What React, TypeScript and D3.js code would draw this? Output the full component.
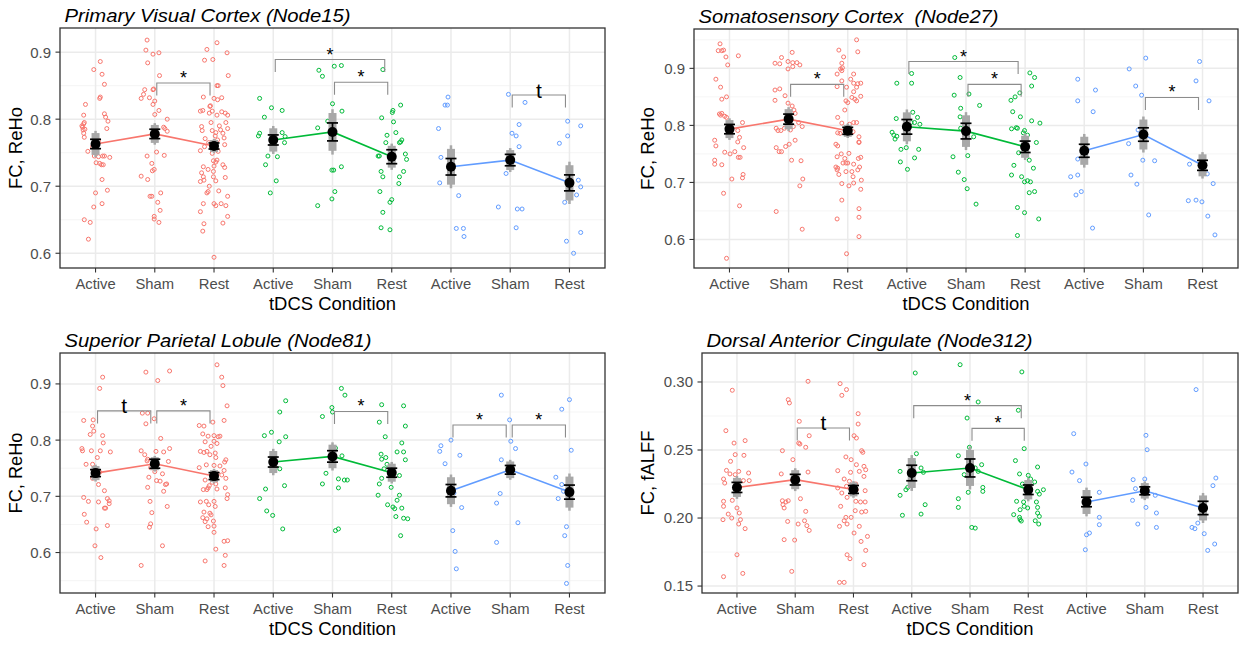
import React from "react";
import * as d3 from "d3";

// x categories and series colours (ggplot defaults)
const conditions = ["Active", "Sham", "Rest", "Active", "Sham", "Rest", "Active", "Sham", "Rest"];
const seriesColors = ["#F8766D", "#00BA38", "#619CFF"];

// ---------- Primary Visual Cortex (Node15) ----------
const node15Mean = [0.763, 0.778, 0.760, 0.769, 0.781, 0.744, 0.729, 0.739, 0.705];
const node15Se = [0.007, 0.007, 0.0045, 0.0075, 0.0134, 0.0104, 0.0123, 0.0085, 0.0119];
const node15Ci = [0.0163, 0.0134, 0.0089, 0.0174, 0.0282, 0.0163, 0.0267, 0.0149, 0.0263];
// [jitter, value]
const node15Points: number[][][] = [
  [[-0.03,.874],[.08,.886],[.11,.867],[.15,.852],[-.17,.822],[.08,.833],[.07,.831],[-.2,.806],[.15,.808],[.17,.803],[.21,.797],[-.23,.790],[-.19,.795],[-.2,.793],[-.18,.785],[-.2,.779],[-.19,.773],[.19,.786],[.05,.768],[-.13,.752],[.05,.744],[-.02,.745],[.12,.745],[.01,.735],[.07,.734],[.1,.732],[.13,.732],[.24,.743],[.15,.745],[-.05,.759],[.11,.710],[.2,.694],[0,.690],[-.03,.669],[.11,.674],[-.19,.650],[-.09,.646],[-.12,.621],[-.22,.788],[-.21,.784]],
  [[-.13,.918],[-.15,.903],[.07,.899],[-.03,.897],[-.12,.884],[.08,.865],[-.02,.845],[-.17,.844],[-.03,.844],[-.19,.837],[-.23,.831],[-.09,.832],[0,.827],[-.03,.822],[.07,.813],[0,.807],[.21,.800],[.15,.788],[.21,.782],[.17,.786],[.03,.751],[.16,.746],[-.13,.745],[-.05,.734],[-.01,.725],[-.04,.723],[-.23,.715],[-.12,.710],[-.08,.685],[-.05,.685],[.1,.690],[.05,.676],[.09,.664],[-.01,.655],[-.01,.651],[.07,.646]],
  [[.05,.914],[-.12,.904],[.22,.899],[-.02,.889],[-.16,.888],[.24,.865],[.05,.850],[.07,.850],[-.18,.833],[0,.831],[.13,.832],[.06,.829],[-.19,.813],[-.23,.812],[-.07,.819],[-.06,.820],[-.03,.812],[.13,.811],[.19,.809],[-.08,.809],[.05,.806],[.23,.806],[-.05,.795],[.2,.795],[-.21,.789],[.09,.790],[.23,.786],[-.2,.783],[-.03,.783],[.11,.784],[.03,.780],[.15,.779],[.17,.772],[.02,.775],[-.15,.771],[.06,.769],[-.09,.765],[-.16,.759],[.03,.759],[.07,.752],[-.03,.749],[-.23,.753],[.18,.762],[.05,.739],[-.01,.738],[.03,.736],[-.18,.729],[0,.730],[.15,.732],[.18,.728],[-.1,.725],[-.21,.720],[-.01,.722],[-.18,.714],[-.01,.714],[.19,.713],[-.23,.707],[-.17,.709],[.03,.708],[-.08,.700],[-.1,.692],[-.12,.690],[.08,.693],[.23,.685],[-.18,.674],[0,.674],[.03,.671],[.12,.674],[.2,.671],[-.23,.662],[.23,.655],[.15,.645],[-.17,.644],[-.19,.633],[0,.594]],
  [[-.23,.831],[-.03,.817],[.15,.813],[-.15,.803],[-.23,.779],[-.25,.775],[.15,.780],[.2,.774],[.19,.765],[.01,.770],[-.09,.745],[.07,.744],[-.13,.732],[.05,.708],[-.05,.690]],
  [[-.23,.873],[-.17,.864],[.03,.879],[.15,.880],[0,.823],[.16,.812],[-.25,.787],[-.08,.797],[0,.766],[-.01,.724],[.02,.724],[.15,.729],[.04,.692],[-.01,.681],[-.25,.671]],
  [[-.15,.874],[.15,.821],[.02,.813],[.01,.810],[-.17,.802],[.03,.796],[.13,.765],[.17,.769],[.15,.766],[-.08,.776],[-.1,.765],[.07,.780],[-.21,.745],[-.23,.745],[.23,.748],[.25,.740],[-.18,.722],[-.15,.714],[.13,.714],[.2,.722],[.12,.704],[-.2,.692],[-.03,.676],[0,.680],[-.15,.661],[-.18,.638],[-.03,.635]],
  [[-.05,.833],[-.1,.821],[-.06,.821],[-.21,.786],[-.17,.743],[-.19,.705],[.13,.686],[.09,.637],[.21,.637],[.22,.625]],
  [[-.03,.837],[.25,.825],[.15,.792],[.03,.779],[.1,.775],[.15,.759],[-.07,.719],[-.2,.669],[.12,.666],[.2,.666],[.1,.638]],
  [[-.03,.797],[.19,.790],[-.03,.775],[-.17,.764],[.15,.709],[.19,.699],[.12,.687],[-.08,.676],[.19,.631],[-.05,.618],[.07,.600]],
];
// [from, to, y, label]
const node15Brackets: [number, number, number, string][] = [
  [1, 2, 0.854, "*"], [3, 5, 0.889, "*"], [4, 5, 0.855, "*"], [7, 8, 0.836, "t"],
];

// ---------- Somatosensory Cortex (Node27) ----------
const node27Mean = [0.7935, 0.811, 0.7905, 0.7975, 0.790, 0.7625, 0.7555, 0.784, 0.730];
const node27Se = [0.0082, 0.0088, 0.0061, 0.0128, 0.0137, 0.010, 0.0114, 0.0118, 0.0088];
const node27Ci = [0.0158, 0.0175, 0.0105, 0.0254, 0.0277, 0.0193, 0.0246, 0.0263, 0.0193];
const node27Points: number[][][] = [
  [[-.16,.943],[-.1,.932],[-.19,.931],[-.13,.931],[-.06,.920],[.15,.922],[-.03,.906],[-.23,.881],[-.15,.867],[-.13,.846],[-.05,.850],[-.15,.818],[-.17,.820],[-.13,.821],[-.08,.816],[-.05,.814],[.22,.805],[-.25,.774],[.14,.791],[.17,.779],[-.23,.764],[.14,.771],[.24,.761],[.09,.754],[.01,.750],[-.08,.753],[.15,.744],[.18,.744],[-.25,.739],[-.25,.732],[-.13,.731],[.23,.714],[.22,.708],[.04,.706],[-.1,.681],[.17,.659],[-.05,.567]],
  [[.06,.928],[-.12,.919],[-.01,.912],[.07,.910],[.14,.910],[.19,.906],[-.15,.908],[-.23,.909],[.07,.903],[-.01,.899],[-.23,.862],[-.15,.864],[-.06,.852],[-.23,.844],[-.01,.839],[.06,.834],[.09,.827],[.11,.821],[.01,.821],[-.21,.795],[-.18,.791],[-.13,.791],[-.07,.795],[.08,.798],[.17,.805],[.23,.798],[.03,.792],[.01,.767],[.11,.774],[-.21,.761],[-.16,.754],[-.12,.754],[-.05,.763],[.05,.739],[.21,.738],[.24,.706],[.19,.694],[-.21,.649],[.23,.618]],
  [[.15,.950],[-.15,.932],[.17,.929],[-.07,.920],[-.1,.909],[-.09,.901],[-.12,.899],[-.1,.896],[-.18,.890],[.1,.890],[.05,.881],[-.1,.878],[.22,.874],[.1,.874],[.17,.873],[-.18,.868],[-.02,.867],[.15,.867],[.1,.859],[.07,.849],[.12,.846],[.22,.851],[-.03,.843],[0,.840],[.15,.843],[-.05,.827],[-.17,.814],[-.1,.804],[.1,.805],[.03,.802],[.15,.805],[-.17,.787],[-.13,.786],[.09,.789],[.19,.780],[.19,.771],[-.2,.767],[-.17,.764],[.19,.770],[-.11,.750],[.02,.751],[-.18,.745],[-.05,.742],[.22,.744],[.18,.742],[0,.734],[-.03,.734],[-.08,.734],[.1,.732],[-.2,.727],[-.17,.725],[-.18,.722],[.2,.727],[-.03,.719],[.07,.719],[.09,.710],[.17,.722],[-.15,.714],[-.1,.698],[.02,.694],[.1,.699],[.23,.704],[.22,.688],[-.1,.669],[.19,.654],[.19,.639],[-.18,.636],[.19,.605],[-.02,.575]],
  [[-.17,.874],[.08,.891],[.08,.874],[-.18,.812],[.1,.823],[.18,.814],[.13,.805],[.22,.802],[.07,.805],[-.25,.788],[-.22,.783],[-.17,.781],[-.2,.776],[-.1,.758],[.2,.758],[-.01,.761],[.13,.743],[-.11,.736],[.01,.723]],
  [[-.19,.919],[-.1,.884],[-.2,.853],[.05,.855],[.23,.835],[-.09,.830],[-.1,.815],[.13,.780],[.03,.747],[-.22,.745],[-.13,.718],[-.03,.705],[.02,.689],[.17,.662],[-.09,.795]],
  [[.08,.892],[.16,.884],[-.24,.844],[-.17,.850],[-.09,.857],[.11,.869],[-.21,.824],[-.08,.815],[.11,.808],[.25,.804],[-.15,.796],[-.13,.795],[-.23,.794],[-.01,.791],[-.03,.787],[.04,.783],[.19,.770],[-.11,.752],[.07,.739],[-.19,.730],[.14,.725],[-.23,.713],[-.06,.710],[.04,.703],[-.01,.701],[.09,.701],[.07,.682],[.16,.684],[-.13,.656],[-.01,.647],[.23,.636],[-.13,.607]],
  [[-.11,.881],[-.11,.843],[.19,.862],[.15,.824],[-.11,.741],[-.23,.710],[-.11,.713],[-.05,.684],[-.14,.678],[.14,.620]],
  [[.04,.918],[-.24,.899],[-.13,.869],[-.03,.853],[-.25,.768],[-.21,.713],[-.11,.697],[-.01,.739],[.19,.738],[.09,.643],[-.09,.792]],
  [[-.05,.912],[-.11,.878],[.11,.843],[-.22,.732],[.08,.715],[.18,.698],[-.24,.668],[-.11,.669],[-.01,.666],[.09,.641],[.21,.608]],
];
const node27Brackets: [number, number, number, string][] = [
  [1, 2, 0.872, "*"], [3, 5, 0.912, "*"], [4, 5, 0.872, "*"], [7, 8, 0.849, "*"],
];

// ---------- Superior Parietal Lobule (Node81) ----------
const node81Mean = [0.7413, 0.758, 0.736, 0.761, 0.771, 0.742, 0.710, 0.7472, 0.7075];
const node81Se = [0.0062, 0.008, 0.0062, 0.0089, 0.0102, 0.008, 0.011, 0.0077, 0.0125];
const node81Ci = [0.0125, 0.0116, 0.0107, 0.0196, 0.0209, 0.016, 0.024, 0.0148, 0.0276];
const node81Points: number[][][] = [
  [[.12,.912],[.07,.892],[-.04,.836],[-.2,.835],[-.05,.825],[-.03,.816],[-.09,.810],[.12,.808],[.13,.795],[-.23,.785],[-.22,.781],[-.07,.781],[.08,.781],[.25,.779],[.03,.769],[-.16,.757],[-.05,.757],[0,.748],[.07,.743],[-.05,.732],[.05,.721],[.15,.710],[-.2,.698],[-.12,.691],[.2,.696],[.23,.692],[.05,.690],[.15,.679],[.17,.679],[.23,.687],[-.19,.668],[-.15,.654],[.2,.648],[.01,.642],[-.01,.612],[.09,.591]],
  [[-.15,.921],[.05,.906],[.25,.923],[-.21,.848],[-.12,.848],[-.01,.838],[-.15,.829],[.1,.803],[-.23,.781],[-.17,.774],[-.12,.766],[-.13,.763],[.02,.780],[.25,.785],[.15,.779],[.23,.762],[-.07,.751],[0,.744],[-.1,.734],[.03,.728],[.09,.727],[.18,.721],[.2,.722],[.13,.740],[-.12,.716],[.15,.709],[-.08,.691],[.21,.682],[-.05,.671],[-.07,.651],[-.09,.645],[.13,.612],[-.23,.577]],
  [[.05,.934],[.13,.912],[.15,.897],[.22,.861],[.17,.835],[-.25,.826],[-.17,.825],[-.02,.832],[-.19,.811],[0,.808],[.1,.807],[-.1,.807],[.07,.806],[0,.798],[-.15,.797],[.05,.794],[-.05,.789],[-.23,.780],[-.12,.780],[-.17,.778],[.02,.777],[-.07,.774],[.03,.769],[.2,.765],[.18,.761],[-.13,.756],[0,.755],[.1,.754],[-.25,.751],[.17,.746],[.05,.741],[.13,.738],[.2,.732],[-.15,.729],[-.03,.725],[.03,.722],[-.1,.715],[-.12,.712],[-.18,.712],[.05,.713],[-.08,.719],[.19,.715],[.23,.703],[.22,.696],[-.23,.690],[-.13,.691],[0,.691],[.02,.682],[-.09,.685],[-.17,.672],[-.19,.662],[-.07,.670],[-.05,.667],[-.12,.660],[-.15,.655],[-.01,.656],[0,.647],[-.1,.646],[0,.636],[.17,.620],[.23,.621],[.03,.606],[.19,.595],[-.15,.585],[.17,.577]],
  [[.21,.870],[.11,.850],[-.03,.814],[-.15,.808],[.1,.797],[.21,.806],[.01,.768],[.11,.749],[.19,.719],[-.13,.713],[-.23,.696],[-.11,.674],[-.01,.666],[.16,.642]],
  [[.15,.892],[.21,.880],[-.01,.858],[0,.850],[-.17,.842],[.05,.786],[.16,.772],[-.11,.741],[.1,.731],[-.17,.722],[.2,.729],[.25,.729],[.1,.715],[.1,.642],[.05,.639],[0,.768]],
  [[-.17,.863],[.2,.861],[-.21,.832],[-.11,.806],[.23,.825],[.17,.795],[.09,.779],[.2,.779],[-.18,.775],[-.1,.769],[-.17,.766],[-.08,.757],[.23,.765],[.13,.737],[-.13,.749],[-.17,.732],[-.21,.722],[-.01,.716],[.13,.702],[-.07,.685],[.05,.678],[.17,.679],[.2,.661],[-.23,.702],[.07,.664],[.15,.630],[.27,.660],[.09,.693],[.02,.681]],
  [[-.17,.790],[-.19,.780],[0,.800],[-.1,.758],[.15,.773],[.05,.706],[.18,.680],[.03,.639],[.07,.602],[.09,.571]],
  [[-.15,.880],[-.01,.836],[.01,.798],[.09,.785],[-.15,.765],[-.17,.705],[-.23,.688],[.13,.653],[-.23,.618]],
  [[0,.872],[-.13,.855],[.03,.782],[-.23,.734],[-.13,.721],[-.19,.696],[-.05,.646],[-.08,.630],[-.03,.577],[-.05,.545],[-.1,.709]],
];
const node81Brackets: [number, number, number, string][] = [
  [0, 1, 0.852, "t"], [1, 2, 0.852, "*"], [4, 5, 0.851, "*"], [6, 7, 0.827, "*"], [7, 8, 0.827, "*"],
];

// ---------- Dorsal Anterior Cingulate (Node312) ----------
const node312Mean = [0.2225, 0.2282, 0.221, 0.2331, 0.2368, 0.2208, 0.2118, 0.220, 0.2074];
const node312Se = [0.0037, 0.0039, 0.0029, 0.0057, 0.0066, 0.0035, 0.0035, 0.0029, 0.0049];
const node312Ci = [0.007, 0.007, 0.0051, 0.011, 0.0132, 0.0071, 0.0088, 0.0057, 0.0092];
const node312Points: number[][][] = [
  [[-.08,.2939],[-.19,.2642],[-.05,.2551],[.14,.2569],[-.03,.2466],[.12,.2461],[.2,.2331],[-.11,.2417],[-.23,.2287],[-.12,.2324],[-.18,.2350],[.03,.2343],[.11,.2275],[.21,.2275],[-.03,.2319],[-.21,.2257],[-.23,.2123],[-.08,.2130],[0,.2074],[.04,.2037],[-.15,.2029],[-.23,.2086],[-.24,.1988],[-.09,.2000],[.06,.1988],[.03,.1956],[.14,.1922],[0,.1730],[-.23,.1569],[.1,.1593]],
  [[.22,.3005],[-.12,.2870],[-.1,.2846],[.07,.2711],[.24,.2605],[.06,.2551],[.08,.2544],[.18,.2520],[-.22,.2495],[-.04,.2429],[.22,.2338],[-.24,.2324],[-.22,.2127],[-.21,.2098],[-.19,.2074],[-.16,.2118],[-.12,.2127],[.09,.2142],[.18,.2049],[.16,.1980],[.05,.1956],[.2,.1944],[.24,.1909],[-.13,.1975],[-.19,.1841],[-.01,.1838],[-.06,.1608]],
  [[-.23,.2988],[-.12,.2944],[-.2,.2902],[.08,.2767],[.08,.2691],[.01,.2605],[.05,.2588],[.14,.2495],[.16,.2483],[-.13,.2449],[-.04,.2429],[.05,.2392],[.18,.2380],[-.27,.2348],[-.05,.2336],[.1,.2343],[.21,.2355],[.18,.2306],[-.16,.2287],[-.07,.2270],[.04,.2250],[-.12,.2233],[-.27,.2221],[.05,.2208],[.2,.2201],[-.2,.2184],[-.11,.2152],[.04,.2123],[.12,.2118],[.2,.2118],[-.22,.2086],[.03,.2054],[.14,.2044],[.21,.2049],[-.13,.2005],[-.04,.2005],[-.16,.1980],[-.24,.1939],[-.11,.1956],[.1,.1939],[.01,.1890],[.24,.1865],[.13,.1828],[.21,.1762],[-.11,.1730],[-.06,.1701],[.18,.1657],[-.24,.1527],[-.16,.1527]],
  [[.06,.3066],[.08,.2473],[.03,.2409],[-.01,.2380],[-.2,.2343],[.16,.2368],[.2,.2336],[-.07,.2225],[-.1,.2208],[-.2,.2167],[.23,.2098],[-.16,.2020],[.16,.2029]],
  [[-.17,.3127],[.14,.2853],[-.05,.2735],[-.01,.2520],[-.2,.2458],[.09,.2368],[.2,.2392],[-.1,.2319],[.14,.2343],[-.03,.2189],[-.2,.2142],[.22,.2225],[.22,.2196],[-.2,.2078],[.03,.1931],[.09,.1926]],
  [[-.11,.3074],[-.17,.2792],[-.07,.2510],[-.22,.2422],[-.15,.2324],[.16,.2375],[0,.2314],[.04,.2287],[-.1,.2250],[.11,.2265],[.26,.2208],[.16,.2196],[.19,.2176],[-.2,.2123],[-.08,.2118],[.14,.2118],[-.07,.2086],[-.14,.2061],[-.01,.2074],[.16,.2078],[.16,.2037],[-.25,.2025],[-.15,.2005],[-.14,.1988],[-.12,.1978],[.12,.1980],[.18,.1956],[.19,.2012]],
  [[-.22,.2620],[-.25,.2338],[-.01,.2397],[-.12,.2275],[.22,.2189],[.22,.2005],[.22,.1951],[.05,.1890],[0,.1877],[-.02,.1767]],
  [[.02,.2608],[.04,.2502],[-.2,.2282],[0,.2287],[-.16,.2216],[-.21,.2130],[.02,.2078],[.18,.2167],[.2,.2037],[-.12,.1956],[.2,.1931]],
  [[-.12,.2944],[.22,.2294],[.17,.2238],[-.03,.2012],[-.09,.1963],[-.19,.1931],[-.14,.1922],[.02,.1885],[.2,.1809],[.08,.1762]],
];
const node312Brackets: [number, number, number, string][] = [
  [1, 2, 0.2662, "t"], [3, 5, 0.2826, "*"], [4, 5, 0.2659, "*"],
];

const yTicksReHo = [0.6, 0.7, 0.8, 0.9];
const yTicksFalff = [0.15, 0.2, 0.25, 0.3];

type PanelSpec = {
  title: string;
  titleW: number;
  yLabel: string;
  yLabelW: number;
  yLabelX: number;
  domain: [number, number];
  ticks: number[];
  minor: number[];
  fmt: string;
  mean: number[];
  se: number[];
  ci: number[];
  points: number[][][];
  brackets: [number, number, number, string][];
  box: { left: number; right: number; top: number; bottom: number };
};

const panels: PanelSpec[] = [
  {
    title: "Primary Visual Cortex (Node15)", titleW: 286,
    yLabel: "FC, ReHo", yLabelW: 82, yLabelX: 16,
    domain: [0.578, 0.936], ticks: yTicksReHo, minor: [0.65, 0.75, 0.85], fmt: ".1f",
    mean: node15Mean, se: node15Se, ci: node15Ci, points: node15Points, brackets: node15Brackets,
    box: { left: 60, right: 605, top: 28, bottom: 268 },
  },
  {
    title: "Somatosensory Cortex  (Node27)", titleW: 300,
    yLabel: "FC, ReHo", yLabelW: 83, yLabelX: 648,
    domain: [0.55, 0.969], ticks: yTicksReHo, minor: [0.65, 0.75, 0.85, 0.95], fmt: ".1f",
    mean: node27Mean, se: node27Se, ci: node27Ci, points: node27Points, brackets: node27Brackets,
    box: { left: 694, right: 1238, top: 29, bottom: 268 },
  },
  {
    title: "Superior Parietal Lobule (Node81)", titleW: 307,
    yLabel: "FC, ReHo", yLabelW: 81, yLabelX: 16,
    domain: [0.528, 0.955], ticks: yTicksReHo, minor: [0.55, 0.65, 0.75, 0.85], fmt: ".1f",
    mean: node81Mean, se: node81Se, ci: node81Ci, points: node81Points, brackets: node81Brackets,
    box: { left: 60, right: 605, top: 353, bottom: 593 },
  },
  {
    title: "Dorsal Anterior Cingulate (Node312)", titleW: 326,
    yLabel: "FC, fALFF", yLabelW: 85, yLabelX: 648,
    domain: [0.1449, 0.3213], ticks: yTicksFalff, minor: [0.175, 0.225, 0.275], fmt: ".2f",
    mean: node312Mean, se: node312Se, ci: node312Ci, points: node312Points, brackets: node312Brackets,
    box: { left: 702, right: 1238, top: 353, bottom: 593 },
  },
];

const FONT = "'Liberation Sans', Arial, Helvetica, sans-serif";

function Panel({ p }: { p: PanelSpec }) {
  const { left, right, top, bottom } = p.box;
  const x = d3.scaleLinear().domain([-0.6, 8.6]).range([left, right]);
  const y = d3.scaleLinear().domain(p.domain).range([bottom, top]);
  const fmt = d3.format(p.fmt);
  const line = d3
    .line<number>()
    .x((i) => x(i))
    .y((i) => y(p.mean[i]));
  const cx = (left + right) / 2;
  const cy = (top + bottom) / 2;

  return (
    <g>
      <text x={left + 4.5} y={top - 6} fontFamily={FONT} fontStyle="italic" fontSize={19} fill="#000"
        textLength={p.titleW} lengthAdjust="spacingAndGlyphs" style={{ whiteSpace: "pre" }}>
        {p.title}
      </text>
      <rect x={left} y={top} width={right - left} height={bottom - top} fill="#fff" />
      {p.minor.map((v) => (
        <line key={"mi" + v} x1={left} x2={right} y1={y(v)} y2={y(v)} stroke="#F2F2F2" strokeWidth={0.8} />
      ))}
      {p.ticks.map((v) => (
        <line key={"ma" + v} x1={left} x2={right} y1={y(v)} y2={y(v)} stroke="#EBEBEB" strokeWidth={1.5} />
      ))}
      {conditions.map((c, i) => (
        <line key={"vx" + i} x1={x(i)} x2={x(i)} y1={top} y2={bottom} stroke="#EBEBEB" strokeWidth={1.5} />
      ))}

      {p.points.map((grp, gi) =>
        grp.map(([j, v], k) => (
          <circle key={gi + "-" + k} cx={x(gi + j)} cy={y(v)} r={2} fill="none"
            stroke={seriesColors[Math.floor(gi / 3)]} strokeWidth={1} />
        ))
      )}

      {p.brackets.map(([a, b, v, lab], k) => {
        const x1 = x(a) + 2;
        const x2 = x(b) - (b - a > 1 ? 7 : 4);
        const yy = y(v);
        return (
          <g key={"br" + k}>
            <path d={`M${x1},${yy + 12.5}V${yy}H${x2}V${yy + 12.5}`} fill="none" stroke="#8C8C8C" strokeWidth={1.1} />
            {lab === "t" ? (
              <text x={(x1 + x2) / 2} y={yy + 2.5} textAnchor="middle" fontFamily={FONT} fontSize={21} fill="#000">t</text>
            ) : (
              <text x={(x1 + x2) / 2} y={yy + 1} textAnchor="middle" fontFamily={FONT} fontSize={18} fill="#000">*</text>
            )}
          </g>
        );
      })}

      {p.mean.map((m, i) => (
        <g key={"ci" + i}>
          <line x1={x(i)} x2={x(i)} y1={y(m - p.ci[i] * 1.2)} y2={y(m + p.ci[i] * 1.2)} stroke="#A8A8A8" strokeWidth={2.5} />
          <rect x={x(i) - 4} y={y(m + p.ci[i])} width={8} height={y(m - p.ci[i]) - y(m + p.ci[i])} fill="#A8A8A8" />
        </g>
      ))}

      {[0, 1, 2].map((s) => (
        <path key={"ln" + s} d={line([s * 3, s * 3 + 1, s * 3 + 2]) || ""} fill="none" stroke={seriesColors[s]} strokeWidth={1.6} />
      ))}

      {p.mean.map((m, i) => {
        const xi = x(i);
        const y1 = y(m + p.se[i]);
        const y2 = y(m - p.se[i]);
        return (
          <g key={"eb" + i} stroke="#000" strokeWidth={1.7}>
            <line x1={xi} x2={xi} y1={y1} y2={y2} />
            <line x1={xi - 5.5} x2={xi + 5.5} y1={y1} y2={y1} />
            <line x1={xi - 5.5} x2={xi + 5.5} y1={y2} y2={y2} />
            <circle cx={xi} cy={y(m)} r={5} fill="#000" stroke="none" />
          </g>
        );
      })}

      <rect x={left} y={top} width={right - left} height={bottom - top} fill="none" stroke="#333333" strokeWidth={1.3} />

      {p.ticks.map((v) => (
        <g key={"yt" + v}>
          <line x1={left - 4.5} x2={left} y1={y(v)} y2={y(v)} stroke="#333" strokeWidth={1.1} />
          <text x={left - 9} y={y(v)} dy="0.36em" textAnchor="end" fontFamily={FONT} fontSize={15} fill="#4D4D4D">{fmt(v)}</text>
        </g>
      ))}
      {conditions.map((c, i) => (
        <g key={"xt" + i}>
          <line x1={x(i)} x2={x(i)} y1={bottom} y2={bottom + 4.5} stroke="#333" strokeWidth={1.1} />
          <text x={x(i)} y={bottom + 21} textAnchor="middle" fontFamily={FONT} fontSize={14.8} fill="#4D4D4D">{c}</text>
        </g>
      ))}
      <text x={cx} y={bottom + 42} textAnchor="middle" fontFamily={FONT} fontSize={17.5} fill="#000"
        textLength={127} lengthAdjust="spacingAndGlyphs">tDCS Condition</text>
      <text transform={`translate(${p.yLabelX},${cy}) rotate(-90)`} textAnchor="middle" dy="0.35em" fontFamily={FONT}
        fontSize={18} fill="#000" textLength={p.yLabelW} lengthAdjust="spacingAndGlyphs">{p.yLabel}</text>
    </g>
  );
}

export default function App() {
  return (
    <svg width={1241} height={645} style={{ position: "fixed", left: 0, top: 0, background: "#fff" }}>
      <rect width={1241} height={645} fill="#fff" />
      {panels.map((p, i) => (
        <Panel key={i} p={p} />
      ))}
    </svg>
  );
}
